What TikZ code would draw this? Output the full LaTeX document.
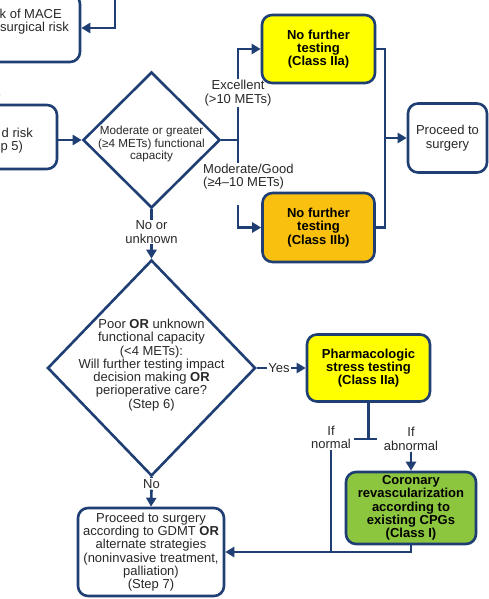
\documentclass[tikz,border=0pt]{standalone}
\usepackage{fontspec}
\setmainfont{Liberation Sans}
\usetikzlibrary{shapes.geometric,arrows.meta}
\definecolor{navy}{RGB}{30,62,116}
\definecolor{yel}{RGB}{255,255,0}
\definecolor{orng}{RGB}{250,192,16}
\definecolor{grn}{RGB}{140,198,63}
\definecolor{txt}{RGB}{40,40,40}
\begin{document}
\begin{tikzpicture}[x=1pt,y=-1pt,
  ln/.style={draw=navy,line width=2.6pt},
  arr/.style={ln,-{Triangle[length=9pt,width=10pt]}},
  box/.style={draw=navy,line width=2.6pt,rounded corners=10pt,align=center,inner sep=0pt,font=\fontsize{13}{13.3}\selectfont,text=txt},
  cbox/.style={box,font=\fontsize{13}{13.3}\selectfont\bfseries,text=black},
  dia/.style={diamond,draw=navy,line width=2.6pt,inner sep=0pt},
  lbl/.style={align=center,inner sep=1pt,font=\fontsize{13}{13.3}\selectfont,text=txt},
  part/.style={inner sep=0pt,font=\fontsize{13}{13.3}\selectfont,text=txt}
]
\useasboundingbox (0,0) rectangle (489,599);
\clip (0,0) rectangle (489,599);
\fill[white] (0,0) rectangle (489,599);

% cropped boxes on the left
\node[box,minimum width=110pt,minimum height=68pt] (topbox) at (25,28) {};
\node[part,anchor=base east] (t1) at (62,18.7) {k of MACE};
\node[part,anchor=base east] (t2) at (69,31.7) {surgical risk};
\node[box,minimum width=120pt,minimum height=64pt] (midbox) at (-3,137) {};
\node[part,anchor=base east] (m1) at (33,137.7) {d risk};
\node[part,anchor=base west] (m2) at (0.4,150.5) {p 5)};

% decision diamonds
\node[dia,minimum width=137pt,minimum height=136pt] (d1) at (151.5,140) {};
\node[align=center,inner sep=0pt,font=\fontsize{11.7}{12.5}\selectfont,text=txt] (d1t) at (151.5,144)
  {Moderate or greater\\(≥4 METs) functional\\capacity};
\node[dia,minimum width=208pt,minimum height=216pt] (d2) at (151.5,368) {};
\node[align=center,inner sep=0pt,font=\fontsize{13}{13.25}\selectfont,text=txt] (d2t) at (151.5,365)
  {Poor \textbf{OR} unknown\\functional capacity\\(<4 METs):\\Will further testing impact\\decision making \textbf{OR}\\perioperative care?\\(Step 6)};

% boxes
\node[cbox,fill=yel,minimum width=113pt,minimum height=68pt] (yel1) at (318.5,49) {No further\\testing\\(Class IIa)};
\node[cbox,fill=orng,minimum width=112pt,minimum height=69pt] (org) at (318.5,227.5) {No further\\testing\\(Class IIb)};
\node[box,minimum width=79pt,minimum height=69pt] (surg) at (447.5,138) {Proceed to\\surgery};
\node[cbox,fill=yel,minimum width=123pt,minimum height=67pt] (pharm) at (368.5,368) {Pharmacologic\\stress testing\\(Class IIa)};
\node[cbox,fill=grn,minimum width=130pt,minimum height=72pt] (green) at (411,508) {Coronary\\revascularization\\according to\\existing CPGs\\(Class I)};
\node[box,minimum width=146pt,minimum height=88pt] (final) at (151,552) {Proceed to surgery\\according to GDMT \textbf{OR}\\alternate strategies\\(noninvasive treatment,\\palliation)\\(Step 7)};

% labels
\node[lbl] (lexc) at (238,93) {Excellent\\(>10 METs)};
\node[lbl,anchor=north west,align=left] (lmod) at (202,163) {Moderate/Good\\(≥4–10 METs)};
\node[lbl] (lno) at (151.5,232) {No or\\unknown};
\node[lbl] (lyes) at (279,368) {Yes};
\node[lbl] (lnorm) at (331,437.5) {If\\normal};
\node[lbl] (labn) at (411,439) {If\\abnormal};
\node[lbl] (lno2) at (151.5,484) {No};

% coordinates
\coordinate (ta) at (115,-5);
\coordinate (ma) at (-5,62);
\coordinate (jn) at (238,140);
\coordinate (mres) at (238,205);
\coordinate (bt) at (385,49);
\coordinate (bb) at (385,227.5);
\coordinate (tj) at (368.5,439);
\coordinate (tl) at (354,439);
\coordinate (tr) at (377,439);

% connectors
\draw[arr] (ta) |- (topbox.east);
\draw[arr] (ma) -- (ma |- midbox.north);
\draw[arr] (midbox.east |- d1.west) -- (d1.west);
\draw[ln] (d1.east) -- (jn);
\draw[ln] (lexc.south) -- (jn) -- (jn |- lmod.north);
\draw[arr] (lexc.north) |- (yel1.west);
\draw[arr] (mres) |- (org.west);
\draw[ln] (yel1.east) -- (bt) -- (bb) -- (org.east);
\draw[arr] (bt |- surg.west) -- (surg.west);
\draw[ln] (d1.south) -- (lno.north);
\draw[arr] (lno.south) -- (d2.north);
\draw[ln] (d2.east) -- (lyes.west);
\draw[arr] (lyes.east) -- (pharm.west);
\draw[ln] (pharm.south) -- (tj);
\draw[ln] (tl) -- (tr);
\draw[arr] (labn.south) -- (green.north);
\draw[ln] (lnorm.south) -- (lnorm.south |- final.east);
\draw[arr] (green.south) |- (final.east);
\draw[ln] (d2.south) -- (lno2.north);
\draw[arr] (lno2.south) -- (final.north);
\end{tikzpicture}
\end{document}
